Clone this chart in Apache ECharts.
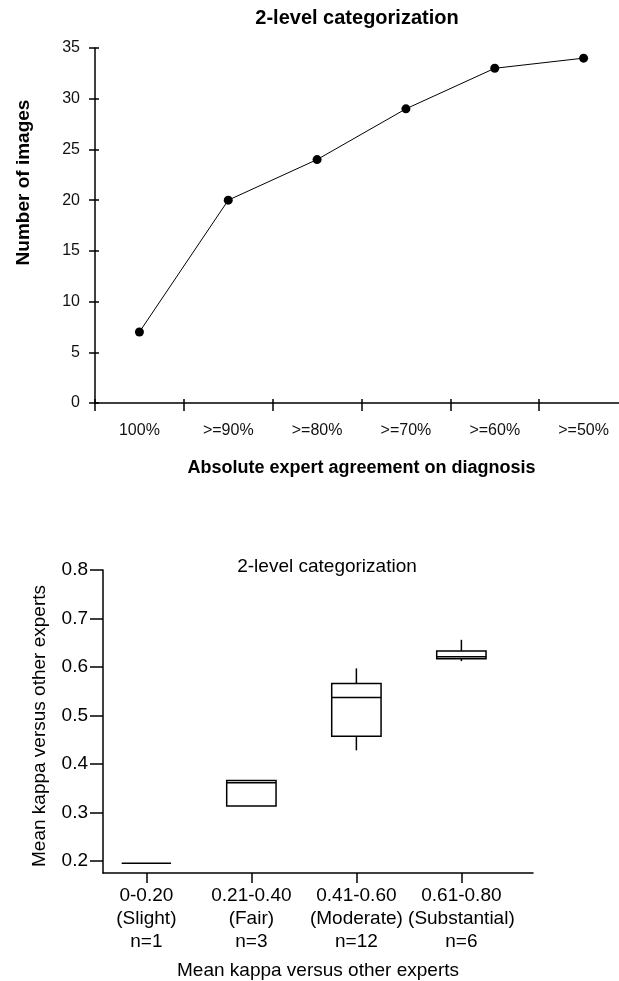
<!DOCTYPE html>
<html><head><meta charset="utf-8">
<script src="https://cdn.jsdelivr.net/npm/echarts@6/dist/echarts.min.js"></script>
<style>html,body{margin:0;padding:0;background:#fff}#c{width:619px;height:981px}</style>
</head><body><div id="c"></div>
<script>
// ---- Top chart data ----
const agreementLevels = ['100%', '>=90%', '>=80%', '>=70%', '>=60%', '>=50%'];
const imageCounts = [7, 20, 24, 29, 33, 34];

// ---- Bottom chart data ----
const kappaRanges = ['0-0.20', '0.21-0.40', '0.41-0.60', '0.61-0.80'];
const kappaClasses = ['(Slight)', '(Fair)', '(Moderate)', '(Substantial)'];
const kappaCounts = ['n=1', 'n=3', 'n=12', 'n=6'];
const kappaMin    = [0.195, 0.313, 0.428, 0.612];
const kappaQ1     = [0.195, 0.313, 0.457, 0.617];
const kappaMedian = [0.195, 0.361, 0.537, 0.621];
const kappaQ3     = [0.195, 0.366, 0.566, 0.633];
const kappaMax    = [0.195, 0.366, 0.597, 0.656];
const kappaTicks  = [0.2, 0.3, 0.4, 0.5, 0.6, 0.7, 0.8];

const FONT = "'Liberation Sans', Arial, sans-serif";
const boxRows = kappaRanges.map((_, i) => [i + 1, kappaMin[i], kappaQ1[i], kappaMedian[i], kappaQ3[i], kappaMax[i]]);

const chart = echarts.init(document.getElementById('c'), null, { renderer: 'canvas' });
const black = '#000';
const topGrid = { left: 95, top: 48, width: 533, height: 355, outerBoundsMode: 'none', containLabel: false };

const option = {
  animation: false,
  backgroundColor: '#fff',
  textStyle: { fontFamily: FONT, color: black },
  graphic: [
    { type: 'text', x: 357, y: 18, style: { text: '2-level categorization', font: "bold 20px " + FONT, fill: black, textAlign: 'center', textVerticalAlign: 'middle' } },
    { type: 'text', x: 327, y: 567, style: { text: '2-level categorization', font: "19px " + FONT, fill: black, textAlign: 'center', textVerticalAlign: 'middle' } }
  ],
  grid: [
    topGrid,
    { left: 103, top: 570, width: 430, height: 303, outerBoundsMode: 'none', containLabel: false },
    Object.assign({}, topGrid)
  ],
  xAxis: [
    {
      gridIndex: 0, type: 'category', data: agreementLevels, boundaryGap: true,
      axisLine: { show: true, lineStyle: { color: black, width: 1.5 } },
      axisTick: { show: true, length: 8, lineStyle: { color: black, width: 1.5 } },
      axisLabel: { show: true, fontSize: 16, color: '#111', margin: 20, fontFamily: FONT },
      splitLine: { show: false },
      name: 'Absolute expert agreement on diagnosis', nameLocation: 'middle', nameGap: 56,
      nameTextStyle: { fontSize: 18, fontWeight: 'bold', color: black, fontFamily: FONT }
    },
    {
      gridIndex: 1, type: 'value', min: 0.587, max: 4.682,
      axisLine: { show: true, onZero: false, lineStyle: { color: black, width: 1.5 } },
      axisTick: { show: true, length: 10, customValues: [1, 2, 3, 4], lineStyle: { color: black, width: 1.5 } },
      axisLabel: {
        show: true, customValues: [1, 2, 3, 4], fontSize: 19, lineHeight: 23, margin: 11, color: black, fontFamily: FONT,
        formatter: v => { const i = Math.round(v) - 1; return kappaRanges[i] + '\n' + kappaClasses[i] + '\n' + kappaCounts[i]; }
      },
      splitLine: { show: false },
      name: 'Mean kappa versus other experts', nameLocation: 'middle', nameGap: 88,
      nameTextStyle: { fontSize: 19, color: black, fontFamily: FONT }
    },
    {
      gridIndex: 2, type: 'category', data: agreementLevels, boundaryGap: true, position: 'bottom',
      axisLine: { show: false },
      axisTick: { show: true, inside: true, length: 4, lineStyle: { color: black, width: 1.5 } },
      axisLabel: { show: false }, splitLine: { show: false }
    }
  ],
  yAxis: [
    {
      gridIndex: 0, type: 'value', min: 0, max: 35, interval: 5,
      axisLine: { show: true, lineStyle: { color: black, width: 1.5 } },
      axisTick: { show: true, length: 6, lineStyle: { color: black, width: 1.5 } },
      axisLabel: { show: true, fontSize: 16, color: '#111', margin: 15, fontFamily: FONT },
      splitLine: { show: false },
      name: 'Number of images', nameLocation: 'middle', nameGap: 62, nameRotate: 90,
      nameTextStyle: { fontSize: 19, fontWeight: 'bold', color: black, fontFamily: FONT, padding: [0, 0, 0, 86] }
    },
    {
      gridIndex: 1, type: 'value', min: 0.175, max: 0.8,
      axisLine: { show: true, onZero: false, lineStyle: { color: black, width: 1.5 } },
      axisTick: { show: true, length: 13, customValues: kappaTicks, lineStyle: { color: black, width: 1.5 } },
      axisLabel: { show: true, customValues: kappaTicks, fontSize: 19, margin: 15, color: black, fontFamily: FONT, formatter: v => v.toFixed(1) },
      splitLine: { show: false },
      name: 'Mean kappa versus other experts', nameLocation: 'middle', nameGap: 54, nameRotate: 90,
      nameTextStyle: { fontSize: 19, color: black, fontFamily: FONT, padding: [0, 9, 0, 0] }
    },
    {
      gridIndex: 2, type: 'value', min: 0, max: 35, interval: 5, position: 'left',
      axisLine: { show: false },
      axisTick: { show: true, inside: true, length: 4, lineStyle: { color: black, width: 1.5 } },
      axisLabel: { show: false }, splitLine: { show: false }
    }
  ],
  series: [
    {
      type: 'line', xAxisIndex: 0, yAxisIndex: 0, data: imageCounts,
      symbol: 'circle', symbolSize: 9, showSymbol: true,
      itemStyle: { color: black },
      lineStyle: { color: black, width: 1 }
    },
    {
      type: 'custom', xAxisIndex: 1, yAxisIndex: 1, data: boxRows,
      encode: { x: 0, y: [1, 2, 3, 4, 5] },
      renderItem: (params, api) => {
        const x = api.value(0);
        const pMin = api.coord([x, api.value(1)]);
        const pQ1 = api.coord([x, api.value(2)]);
        const pMed = api.coord([x, api.value(3)]);
        const pQ3 = api.coord([x, api.value(4)]);
        const pMax = api.coord([x, api.value(5)]);
        const half = api.size([1, 0])[0] * 0.235;
        const st = { stroke: black, lineWidth: 1.5, fill: null };
        const children = [];
        if (pQ1[1] - pQ3[1] > 0.5) {
          children.push({ type: 'rect', shape: { x: pQ3[0] - half, y: pQ3[1], width: 2 * half, height: pQ1[1] - pQ3[1] }, style: { stroke: black, lineWidth: 1.5, fill: 'rgba(0,0,0,0)' } });
        }
        children.push({ type: 'line', shape: { x1: pMed[0] - half, y1: pMed[1], x2: pMed[0] + half, y2: pMed[1] }, style: st });
        if (pQ3[1] - pMax[1] > 0.5) children.push({ type: 'line', shape: { x1: pMax[0], y1: pMax[1], x2: pQ3[0], y2: pQ3[1] }, style: st });
        if (pMin[1] - pQ1[1] > 0.5) children.push({ type: 'line', shape: { x1: pQ1[0], y1: pQ1[1], x2: pMin[0], y2: pMin[1] }, style: st });
        return { type: 'group', children };
      }
    }
  ]
};
chart.setOption(option);
</script>
</body></html>
